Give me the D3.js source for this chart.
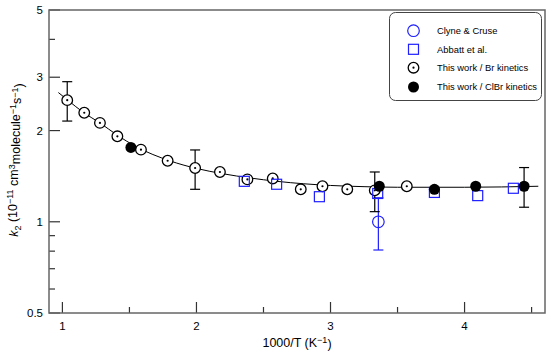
<!DOCTYPE html>
<html>
<head>
<meta charset="utf-8">
<script src="https://cdn.jsdelivr.net/npm/d3@7"></script>
<style>
  body { margin: 0; background: #fff; }
  text { font-family: "Liberation Sans", Arial, sans-serif; }
</style>
</head>
<body>
<svg id="chart"></svg>
<script>
// this work, Br kinetics
var brX = [1.036, 1.163, 1.28, 1.41, 1.586, 1.785, 1.99, 2.175, 2.38, 2.569, 2.778, 2.94, 3.125, 3.33, 3.569];
var brK = [2.52, 2.29, 2.12, 1.915, 1.73, 1.59, 1.505, 1.46, 1.38, 1.39, 1.28, 1.31, 1.28, 1.27, 1.31];
// this work, ClBr kinetics
var clbrX = [1.511, 3.364, 3.775, 4.083, 4.444];
var clbrK = [1.76, 1.31, 1.28, 1.31, 1.31];
// Abbatt et al.
var abbattX = [2.357, 2.598, 2.917, 3.352, 3.775, 4.098, 4.364];
var abbattK = [1.36, 1.33, 1.21, 1.24, 1.25, 1.22, 1.29];
// Clyne & Cruse
var clyneX = [3.357];
var clyneK = [1.0];
var clyneLo = [0.807];
var clyneHi = [1.2];
// error bars on this work
var errX = [1.036, 1.99, 3.33, 4.444];
var errLo = [2.15, 1.28, 1.08, 1.117];
var errHi = [2.90, 1.726, 1.46, 1.51];
// fitted curve
var fitX = [0.97, 1.04, 1.16, 1.28, 1.41, 1.55, 1.8, 2.0, 2.2, 2.4, 2.6, 2.8, 3.0, 3.25, 3.5, 4.0, 4.55];
var fitK = [2.67, 2.52, 2.29, 2.12, 1.93, 1.77, 1.59, 1.50, 1.44, 1.395, 1.36, 1.335, 1.318, 1.306, 1.30, 1.30, 1.31];

var xMajor = [1, 2, 3, 4];
var xMinor = [1.5, 2.5, 3.5, 4.5];
var yMajor = [0.5, 1, 2, 3, 5];
var yMinor = [0.6, 0.7, 0.8, 0.9, 4];

var legendItems = ["Clyne & Cruse", "Abbatt et al.", "This work / Br kinetics", "This work / ClBr kinetics"];

const width = 550, height = 357;
const margin = {left: 49, right: 5, top: 10, bottom: 44};
var blue = "#1f1fff";
var frameCol = "#666";

var svg = d3.select("#chart").attr("width", width).attr("height", height);

var x = d3.scaleLinear().domain([0.9, 4.6]).range([margin.left, width - margin.right]);
var y = d3.scaleLog().domain([0.5, 5]).range([height - margin.bottom, margin.top]);

// ticks
var bottomY = y(0.5), leftX = x(0.9);
svg.append("g").selectAll("line").data(xMajor).join("line")
    .attr("x1", d => x(d)).attr("x2", d => x(d))
    .attr("y1", bottomY).attr("y2", bottomY - 11)
    .attr("stroke", "#333").attr("stroke-width", 1.2);
svg.append("g").selectAll("line").data(xMinor).join("line")
    .attr("x1", d => x(d)).attr("x2", d => x(d))
    .attr("y1", bottomY).attr("y2", bottomY - 6)
    .attr("stroke", "#333").attr("stroke-width", 1.2);
svg.append("g").selectAll("line").data(yMajor).join("line")
    .attr("x1", leftX).attr("x2", leftX + 11)
    .attr("y1", d => y(d)).attr("y2", d => y(d))
    .attr("stroke", "#333").attr("stroke-width", 1.2);
svg.append("g").selectAll("line").data(yMinor).join("line")
    .attr("x1", leftX).attr("x2", leftX + 6)
    .attr("y1", d => y(d)).attr("y2", d => y(d))
    .attr("stroke", "#333").attr("stroke-width", 1.2);

// tick labels
svg.append("g").selectAll("text").data(xMajor).join("text")
    .attr("x", d => x(d)).attr("y", bottomY + 17)
    .attr("text-anchor", "middle").attr("font-size", "11.5px")
    .text(d => d);
svg.append("g").selectAll("text").data(yMajor).join("text")
    .attr("x", leftX - 6).attr("y", d => y(d)).attr("dy", "0.35em")
    .attr("text-anchor", "end").attr("font-size", "11.5px")
    .text(d => d);

// frame
svg.append("rect")
    .attr("x", leftX).attr("y", y(5))
    .attr("width", x(4.6) - leftX).attr("height", bottomY - y(5))
    .attr("fill", "none").attr("stroke", frameCol).attr("stroke-width", 1.5);

// axis titles
var xt = svg.append("text").attr("x", x(2.75)).attr("y", 347)
    .attr("text-anchor", "middle").attr("font-size", "12.5px");
xt.append("tspan").text("1000/T (K");
xt.append("tspan").attr("dy", "-0.4em").attr("font-size", "9px").text("\u22121");
xt.append("tspan").attr("dy", "0.4em").text(")");

var yt = svg.append("text").attr("transform", "translate(18,160) rotate(-90)")
    .attr("text-anchor", "middle").attr("font-size", "12.5px");
yt.append("tspan").attr("font-style", "italic").text("k");
yt.append("tspan").attr("dy", "0.3em").attr("font-size", "9px").text("2");
yt.append("tspan").attr("dy", "-0.3em").text(" (10");
yt.append("tspan").attr("dy", "-0.4em").attr("font-size", "9px").text("\u221211");
yt.append("tspan").attr("dy", "0.4em").text(" cm");
yt.append("tspan").attr("dy", "-0.4em").attr("font-size", "9px").text("3");
yt.append("tspan").attr("dy", "0.4em").text("molecule");
yt.append("tspan").attr("dy", "-0.4em").attr("font-size", "9px").text("\u22121");
yt.append("tspan").attr("dy", "0.4em").text("s");
yt.append("tspan").attr("dy", "-0.4em").attr("font-size", "9px").text("\u22121");
yt.append("tspan").attr("dy", "0.4em").text(")");

// fit line
var fitData = fitX.map((d, i) => [d, fitK[i]]);
svg.append("path").datum(fitData)
    .attr("d", d3.line().x(d => x(d[0])).y(d => y(d[1])).curve(d3.curveMonotoneX))
    .attr("fill", "none").attr("stroke", "#000").attr("stroke-width", 1);

// error bars
function errorBars(xs, lo, hi, col) {
    var g = svg.append("g").attr("stroke", col).attr("stroke-width", 1.2);
    xs.forEach(function (xv, i) {
        g.append("line").attr("x1", x(xv)).attr("x2", x(xv)).attr("y1", y(lo[i])).attr("y2", y(hi[i]));
        g.append("line").attr("x1", x(xv) - 5).attr("x2", x(xv) + 5).attr("y1", y(lo[i])).attr("y2", y(lo[i]));
        g.append("line").attr("x1", x(xv) - 5).attr("x2", x(xv) + 5).attr("y1", y(hi[i])).attr("y2", y(hi[i]));
    });
}
errorBars(clyneX, clyneLo, clyneHi, blue);
errorBars(errX, errLo, errHi, "#000");

// markers
function brMarker(g, cx, cy) {
    g.append("circle").attr("cx", cx).attr("cy", cy).attr("r", 5.3)
        .attr("fill", "#fff").attr("stroke", "#000").attr("stroke-width", 1.3);
    g.append("circle").attr("cx", cx).attr("cy", cy).attr("r", 1.1).attr("fill", "#000");
}
var gBr = svg.append("g");
brX.forEach((d, i) => brMarker(gBr, x(d), y(brK[i])));

svg.append("g").selectAll("circle").data(clyneX).join("circle")
    .attr("cx", d => x(d)).attr("cy", (d, i) => y(clyneK[i])).attr("r", 5.8)
    .attr("fill", "none").attr("stroke", blue).attr("stroke-width", 1.2);

svg.append("g").selectAll("rect").data(abbattX).join("rect")
    .attr("x", d => x(d) - 5).attr("y", (d, i) => y(abbattK[i]) - 5)
    .attr("width", 10).attr("height", 10)
    .attr("fill", "none").attr("stroke", blue).attr("stroke-width", 1.2);

svg.append("g").selectAll("circle").data(clbrX).join("circle")
    .attr("cx", d => x(d)).attr("cy", (d, i) => y(clbrK[i])).attr("r", 5.5)
    .attr("fill", "#000");

// legend
var lg = svg.append("g");
lg.append("rect").attr("x", 389.5).attr("y", 12.5).attr("width", 152).attr("height", 88)
    .attr("rx", 6).attr("fill", "#fff").attr("stroke", "#444").attr("stroke-width", 1);
var rowY = [30.7, 49.3, 67.7, 87];
lg.selectAll("text").data(legendItems).join("text")
    .attr("x", 437).attr("y", (d, i) => rowY[i]).attr("dy", "0.35em")
    .attr("font-size", "9.4px").text(d => d);
var mx = 413.5;
lg.append("circle").attr("cx", mx).attr("cy", rowY[0]).attr("r", 5.8)
    .attr("fill", "none").attr("stroke", blue).attr("stroke-width", 1.2);
lg.append("rect").attr("x", mx - 5).attr("y", rowY[1] - 5).attr("width", 10).attr("height", 10)
    .attr("fill", "none").attr("stroke", blue).attr("stroke-width", 1.2);
brMarker(lg, mx, rowY[2]);
lg.append("circle").attr("cx", mx).attr("cy", rowY[3]).attr("r", 5.5).attr("fill", "#000");
</script>
</body>
</html>
